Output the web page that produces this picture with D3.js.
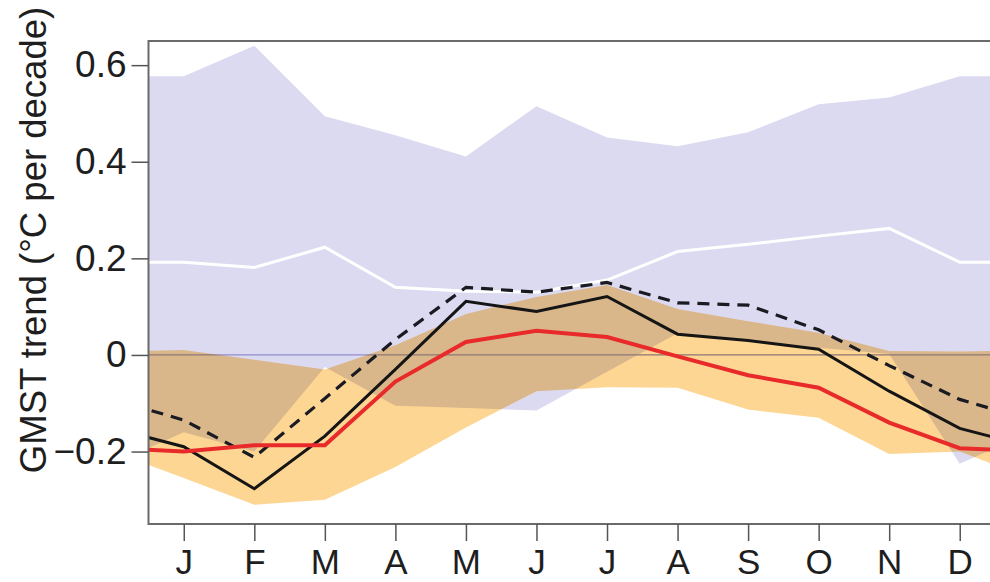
<!DOCTYPE html>
<html>
<head>
<meta charset="utf-8">
<script src="https://cdn.jsdelivr.net/npm/d3@7"></script>
<style>
  html, body { margin: 0; padding: 0; background: #fff; }
  svg { display: block; font-family: "Liberation Sans", Arial, Helvetica, sans-serif; }
</style>
</head>
<body>
<svg id="chart" width="990" height="582"></svg>
<script>
// Month labels along the x axis
const months = ["J", "F", "M", "A", "M", "J", "J", "A", "S", "O", "N", "D"];

// Y axis ticks and their labels
const yTickValues = [-0.2, 0, 0.2, 0.4, 0.6];
const yTickLabels = ["\u22120.2", "0", "0.2", "0.4", "0.6"];

// Model spread (lavender band)
const modelUpper = [0.577, 0.64, 0.494, 0.455, 0.411, 0.515, 0.45, 0.432, 0.461, 0.519, 0.533, 0.577];
const modelLower = [-0.16, -0.2, -0.025, -0.105, -0.11, -0.115, -0.035, 0.045, 0.03, 0.015, 0.002, -0.225];

// Second ensemble spread (orange band)
const ensUpper = [0.01, -0.01, -0.03, 0.02, 0.085, 0.12, 0.145, 0.095, 0.07, 0.046, 0.008, 0.007];
const ensLower = [-0.255, -0.31, -0.30, -0.232, -0.15, -0.075, -0.067, -0.068, -0.113, -0.13, -0.205, -0.2];

// Mean trends
const modelMean = [0.192, 0.181, 0.223, 0.14, 0.132, 0.13, 0.155, 0.214, 0.229, 0.246, 0.262, 0.192];
const observedSolid = [-0.19, -0.277, -0.168, -0.03, 0.111, 0.09, 0.121, 0.043, 0.03, 0.012, -0.075, -0.152];
const observedDashed = [-0.135, -0.212, -0.09, 0.032, 0.14, 0.13, 0.15, 0.108, 0.103, 0.052, -0.022, -0.092];
const ensMean = [-0.2, -0.187, -0.187, -0.055, 0.027, 0.05, 0.037, -0.003, -0.042, -0.068, -0.14, -0.193];

// The annual cycle is periodic: prepend December and append January
const cyclic = arr => [arr[11], ...arr, arr[0]];

const svg = d3.select("#chart");
const plotLeft = 148.5, plotRight = 995, plotTop = 41, plotBottom = 524;

const x = d3.scaleLinear().domain([0.5, 12.5]).range([plotLeft, plotRight]);
const y = d3.scaleLinear().domain([-0.35, 0.65]).range([plotBottom, plotTop]);

svg.append("defs").append("clipPath").attr("id", "plotClip")
  .append("rect").attr("x", plotLeft).attr("y", plotTop)
  .attr("width", plotRight - plotLeft).attr("height", plotBottom - plotTop);

const plot = svg.append("g").attr("clip-path", "url(#plotClip)");

const idx = d3.range(14);
const band = (hi, lo) => {
  const h = cyclic(hi), l = cyclic(lo);
  return d3.area().x(i => x(i)).y0(i => y(l[i])).y1(i => y(h[i]))(idx);
};
const path = arr => {
  const v = cyclic(arr);
  return d3.line().x(i => x(i)).y(i => y(v[i]))(idx);
};

// Lavender model band
plot.append("path").attr("d", band(modelUpper, modelLower)).attr("fill", "#dcdaf0");

// Zero reference line
plot.append("line")
  .attr("x1", plotLeft).attr("x2", plotRight)
  .attr("y1", y(0)).attr("y2", y(0))
  .attr("stroke", "#8f8ccc").attr("stroke-width", 1.2);

// Orange band, multiplied over the lavender band so the overlap turns tan
plot.append("path").attr("d", band(ensUpper, ensLower))
  .attr("fill", "#fdd694").style("mix-blend-mode", "multiply");

// Lines
plot.append("path").attr("d", path(modelMean))
  .attr("fill", "none").attr("stroke", "#ffffff").attr("stroke-width", 3);
plot.append("path").attr("d", path(observedDashed))
  .attr("fill", "none").attr("stroke", "#1a1a22").attr("stroke-width", 3.2)
  .attr("stroke-dasharray", "12,8");
plot.append("path").attr("d", path(observedSolid))
  .attr("fill", "none").attr("stroke", "#151515").attr("stroke-width", 3);
plot.append("path").attr("d", path(ensMean))
  .attr("fill", "none").attr("stroke", "#e82a2a").attr("stroke-width", 4);

// Frame
svg.append("rect")
  .attr("x", plotLeft).attr("y", plotTop)
  .attr("width", plotRight - plotLeft).attr("height", plotBottom - plotTop)
  .attr("fill", "none").attr("stroke", "#6a6a6a").attr("stroke-width", 2);

// Y axis
const yAxis = d3.axisLeft(y)
  .tickValues(yTickValues)
  .tickFormat((d, i) => yTickLabels[i])
  .tickSize(17).tickPadding(5);
const gy = svg.append("g").attr("transform", `translate(${plotLeft},0)`).call(yAxis);
gy.select(".domain").remove();
gy.selectAll(".tick line").attr("stroke", "#555").attr("stroke-width", 1.5);
gy.selectAll(".tick text")
  .attr("font-size", 37).attr("fill", "#1e1e1e")
  .attr("font-family", "Liberation Sans, Arial, sans-serif");

// X axis
const xAxis = d3.axisBottom(x)
  .tickValues(d3.range(1, 13))
  .tickFormat(d => months[d - 1])
  .tickSize(17).tickPadding(8);
const gx = svg.append("g").attr("transform", `translate(0,${plotBottom})`).call(xAxis);
gx.select(".domain").remove();
gx.selectAll(".tick line").attr("stroke", "#555").attr("stroke-width", 1.5);
gx.selectAll(".tick text")
  .attr("font-size", 35).attr("fill", "#1e1e1e")
  .attr("font-family", "Liberation Sans, Arial, sans-serif");

// Y axis title
svg.append("text")
  .attr("transform", "translate(46,240) rotate(-90)")
  .attr("text-anchor", "middle")
  .attr("font-size", 36.5).attr("fill", "#1e1e1e")
  .text("GMST trend (\u00B0C per decade)");
</script>
</body>
</html>
